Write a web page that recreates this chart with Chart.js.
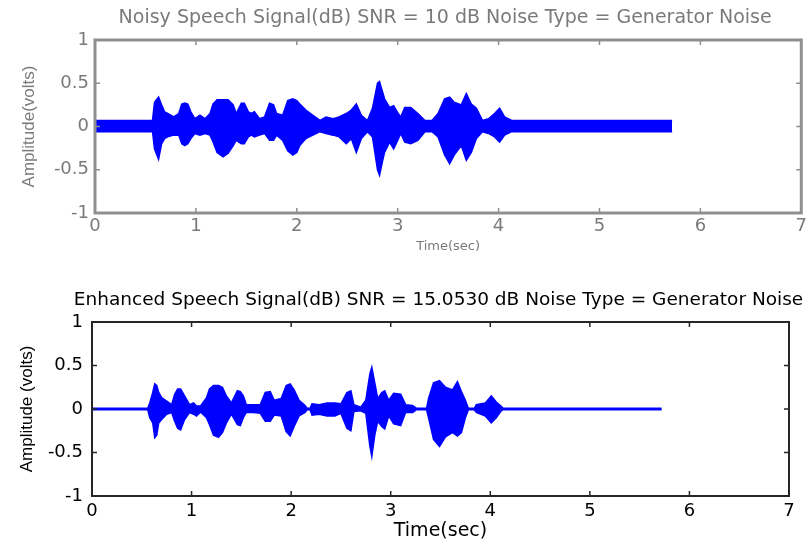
<!DOCTYPE html>
<html>
<head>
<meta charset="utf-8">
<script src="https://cdn.jsdelivr.net/npm/chart.js@4.4.1/dist/chart.umd.min.js"></script>
<style>
  html, body { margin: 0; padding: 0; background: #fff; }
  #wrap { position: relative; width: 810px; height: 543px; }
  canvas { position: absolute; left: 0; }
  #noisy { top: 0; }
  #enhanced { top: 270px; }
</style>
</head>
<body>
<div id="wrap">
  <canvas id="noisy" width="810" height="270"></canvas>
  <canvas id="enhanced" width="810" height="273"></canvas>
</div>
<script>
// envelope of the noisy signal (upper / lower amplitude, volts)
const noisyTime  = [0, 0.57, 0.59, 0.63, 0.66, 0.69, 0.72, 0.78, 0.83, 0.86, 0.89, 0.92, 0.95, 0.99, 1.04, 1.09, 1.14, 1.17, 1.21, 1.27, 1.32, 1.37, 1.40, 1.45, 1.48, 1.52, 1.55, 1.58, 1.63, 1.68, 1.73, 1.77, 1.80, 1.86, 1.91, 1.96, 2.00, 2.03, 2.09, 2.16, 2.23, 2.29, 2.36, 2.42, 2.49, 2.54, 2.59, 2.64, 2.70, 2.75, 2.80, 2.82, 2.85, 2.87, 2.92, 2.96, 3.00, 3.03, 3.07, 3.13, 3.20, 3.27, 3.34, 3.40, 3.465, 3.515, 3.56, 3.63, 3.68, 3.73, 3.78, 3.84, 3.90, 3.96, 4.01, 4.06, 4.13, 4.20, 5.72];
const noisyUpper = [0.07, 0.07, 0.28, 0.34, 0.25, 0.17, 0.15, 0.11, 0.15, 0.26, 0.27, 0.26, 0.17, 0.09, 0.13, 0.09, 0.15, 0.26, 0.31, 0.31, 0.31, 0.25, 0.15, 0.27, 0.27, 0.17, 0.15, 0.17, 0.09, 0.11, 0.27, 0.25, 0.15, 0.13, 0.30, 0.32, 0.30, 0.26, 0.19, 0.13, 0.07, 0.11, 0.09, 0.11, 0.15, 0.19, 0.26, 0.13, 0.07, 0.21, 0.50, 0.52, 0.40, 0.32, 0.22, 0.24, 0.16, 0.11, 0.22, 0.22, 0.15, 0.07, 0.07, 0.15, 0.32, 0.34, 0.28, 0.25, 0.38, 0.26, 0.21, 0.07, 0.09, 0.15, 0.21, 0.11, 0.07, 0.07, 0.07];
const noisyLower = [-0.06, -0.06, -0.26, -0.38, -0.20, -0.14, -0.12, -0.10, -0.10, -0.20, -0.22, -0.20, -0.14, -0.08, -0.10, -0.08, -0.10, -0.18, -0.30, -0.35, -0.31, -0.22, -0.16, -0.20, -0.20, -0.12, -0.10, -0.12, -0.10, -0.08, -0.16, -0.16, -0.10, -0.16, -0.28, -0.33, -0.30, -0.22, -0.14, -0.10, -0.06, -0.08, -0.10, -0.12, -0.20, -0.14, -0.30, -0.14, -0.06, -0.12, -0.50, -0.565, -0.40, -0.30, -0.18, -0.26, -0.16, -0.08, -0.18, -0.20, -0.16, -0.06, -0.06, -0.12, -0.33, -0.43, -0.33, -0.22, -0.39, -0.30, -0.14, -0.06, -0.08, -0.12, -0.18, -0.10, -0.06, -0.06, -0.06];

// envelope of the enhanced signal
const enhancedTime  = [0, 0.56, 0.58, 0.61, 0.63, 0.65, 0.67, 0.70, 0.75, 0.80, 0.83, 0.86, 0.89, 0.93, 0.98, 1.02, 1.05, 1.09, 1.15, 1.18, 1.22, 1.27, 1.31, 1.35, 1.40, 1.46, 1.49, 1.52, 1.55, 1.62, 1.69, 1.74, 1.79, 1.83, 1.90, 1.95, 1.99, 2.03, 2.08, 2.14, 2.16, 2.19, 2.21, 2.28, 2.36, 2.44, 2.50, 2.56, 2.60, 2.63, 2.70, 2.75, 2.79, 2.81, 2.84, 2.87, 2.91, 2.94, 2.98, 3.03, 3.10, 3.15, 3.22, 3.26, 3.36, 3.38, 3.43, 3.49, 3.55, 3.62, 3.67, 3.71, 3.75, 3.78, 3.84, 3.86, 3.95, 4.01, 4.06, 4.11, 4.13, 5.72];
const enhancedUpper = [0.008, 0.008, 0.07, 0.19, 0.29, 0.27, 0.19, 0.13, 0.09, 0.05, 0.17, 0.23, 0.23, 0.15, 0.05, 0.07, 0.035, 0.035, 0.13, 0.23, 0.27, 0.27, 0.25, 0.15, 0.07, 0.21, 0.20, 0.15, 0.05, 0.05, 0.05, 0.19, 0.20, 0.10, 0.12, 0.27, 0.287, 0.22, 0.10, 0.04, 0.008, 0.008, 0.06, 0.05, 0.07, 0.07, 0.06, 0.19, 0.21, 0.05, 0.02, 0.10, 0.40, 0.48, 0.30, 0.12, 0.19, 0.21, 0.10, 0.18, 0.17, 0.05, 0.04, 0.008, 0.008, 0.12, 0.30, 0.326, 0.25, 0.22, 0.315, 0.20, 0.10, 0.008, 0.008, 0.05, 0.07, 0.15, 0.08, 0.03, 0.008, 0.008];
const enhancedLower = [-0.008, -0.008, -0.10, -0.16, -0.33, -0.30, -0.16, -0.12, -0.06, -0.04, -0.14, -0.22, -0.24, -0.12, -0.04, -0.06, -0.08, -0.035, -0.10, -0.18, -0.30, -0.325, -0.27, -0.16, -0.06, -0.18, -0.19, -0.10, -0.04, -0.04, -0.05, -0.14, -0.14, -0.07, -0.08, -0.26, -0.31, -0.20, -0.08, -0.04, -0.008, -0.008, -0.07, -0.06, -0.08, -0.08, -0.05, -0.22, -0.25, -0.03, -0.02, -0.05, -0.42, -0.547, -0.30, -0.14, -0.20, -0.23, -0.08, -0.17, -0.19, -0.04, -0.04, -0.008, -0.008, -0.10, -0.35, -0.43, -0.32, -0.27, -0.31, -0.27, -0.10, -0.008, -0.008, -0.04, -0.08, -0.16, -0.10, -0.02, -0.008, -0.008];

const xTickLabels = ['0', '1', '2', '3', '4', '5', '6', '7'];
const yTickLabels = ['-1', '-0.5', '0', '0.5', '1'];

// MATLAB style box: frame on all sides, ticks pointing inwards
const boxTicks = {
  id: 'boxTicks',
  afterDraw(chart, args, opts) {
    const { ctx, chartArea: a, scales: { x, y } } = chart;
    ctx.save();
    ctx.strokeStyle = opts.color;
    ctx.lineWidth = opts.tickWidth;
    ctx.beginPath();
    x.ticks.forEach(t => {
      const px = x.getPixelForValue(t.value);
      ctx.moveTo(px, a.bottom); ctx.lineTo(px, a.bottom - opts.len);
      ctx.moveTo(px, a.top); ctx.lineTo(px, a.top + opts.len);
    });
    y.ticks.forEach(t => {
      const py = y.getPixelForValue(t.value);
      ctx.moveTo(a.left, py); ctx.lineTo(a.left + opts.len, py);
      ctx.moveTo(a.right, py); ctx.lineTo(a.right - opts.len, py);
    });
    ctx.stroke();
    ctx.lineWidth = opts.width;
    ctx.strokeRect(a.left, a.top, a.right - a.left, a.bottom - a.top);
    ctx.restore();
  }
};

// title centred over the plot area (may be wider than it, like MATLAB)
const axesTitle = {
  id: 'axesTitle',
  afterDraw(chart, args, opts) {
    const { ctx, chartArea: a } = chart;
    ctx.save();
    ctx.font = `${opts.size}px "${opts.family}"`;
    ctx.fillStyle = opts.color;
    ctx.textAlign = 'center';
    ctx.textBaseline = 'middle';
    ctx.fillText(opts.text, (a.left + a.right) / 2 + opts.dx, opts.y);
    ctx.restore();
  }
};

function envelope(time, vals) {
  return time.map((t, i) => ({ x: t, y: vals[i] }));
}

const WIDE = 'DejaVu Sans';
const NARROW = 'Liberation Sans';

function makeChart(id, s) {
  const yTitleHalf = s.yTitleSize * 1.2 / 2;
  return new Chart(document.getElementById(id), {
    type: 'line',
    data: {
      datasets: [
        { data: envelope(s.time, s.upper), borderColor: '#0000ff', backgroundColor: '#0000ff',
          borderWidth: 1.5, pointRadius: 0, fill: '+1' },
        { data: envelope(s.time, s.lower), borderColor: '#0000ff', backgroundColor: '#0000ff',
          borderWidth: 1.5, pointRadius: 0, fill: false }
      ]
    },
    options: {
      responsive: false,
      animation: false,
      devicePixelRatio: 1,
      layout: { padding: { left: 0, right: s.padRight, top: s.padTop, bottom: 0 } },
      plugins: {
        legend: { display: false },
        tooltip: { enabled: false },
        title: { display: false },
        axesTitle: { text: s.title, color: s.textColor, family: WIDE, size: s.titleSize,
                     y: s.titleY, dx: s.titleDx },
        boxTicks: { color: s.axisColor, width: s.frameWidth, tickWidth: 1.5, len: 5 }
      },
      scales: {
        x: {
          type: 'linear', min: 0, max: 7,
          grid: { display: false, drawTicks: false },
          border: { display: false },
          ticks: { stepSize: 1, padding: s.xTickPad, color: s.textColor,
                   font: { family: WIDE, size: s.tickSize },
                   callback: (v) => xTickLabels[v] },
          title: { display: true, text: 'Time(sec)', color: s.textColor,
                   font: { family: WIDE, size: s.xTitleSize },
                   padding: { top: 0, bottom: s.xTitlePad } },
          afterFit: (sc) => { sc.height = s.xHeight; }
        },
        y: {
          min: -1, max: 1,
          grid: { display: false, drawTicks: false },
          border: { display: false },
          ticks: { stepSize: 0.5, padding: s.yTickPad, color: s.textColor,
                   font: { family: WIDE, size: s.tickSize },
                   callback: (v) => yTickLabels[Math.round((v + 1) * 2)] },
          title: { display: true, text: s.yTitle, color: s.textColor,
                   font: { family: NARROW, size: s.yTitleSize, lineHeight: 1.2 },
                   padding: { top: s.yTitleX - yTitleHalf, bottom: 0 } },
          afterFit: (sc) => { sc.width = s.areaLeft; }
        }
      }
    },
    plugins: [boxTicks, axesTitle]
  });
}

makeChart('noisy', {
  time: noisyTime, upper: noisyUpper, lower: noisyLower,
  title: 'Noisy Speech Signal(dB) SNR = 10 dB Noise Type = Generator Noise',
  yTitle: 'Amplitude(volts)',
  textColor: '#7a7a7a', axisColor: '#8f8f8f', frameWidth: 3,
  titleSize: 19, titleY: 18, titleDx: -3,
  tickSize: 18, xTickPad: 3, yTickPad: 6,
  xTitleSize: 13, xTitlePad: 16, xHeight: 57,
  yTitleSize: 17, yTitleX: 29,
  areaLeft: 95, padTop: 40, padRight: 8
});

makeChart('enhanced', {
  time: enhancedTime, upper: enhancedUpper, lower: enhancedLower,
  title: 'Enhanced Speech Signal(dB) SNR = 15.0530 dB Noise Type = Generator Noise',
  yTitle: 'Amplitude (volts)',
  textColor: '#000000', axisColor: '#262626', frameWidth: 2,
  titleSize: 18.5, titleY: 30, titleDx: -2,
  tickSize: 18, xTickPad: 5, yTickPad: 9,
  xTitleSize: 19, xTitlePad: 1, xHeight: 47,
  yTitleSize: 17, yTitleX: 27,
  areaLeft: 92, padTop: 52, padRight: 21
});
</script>
</body>
</html>
